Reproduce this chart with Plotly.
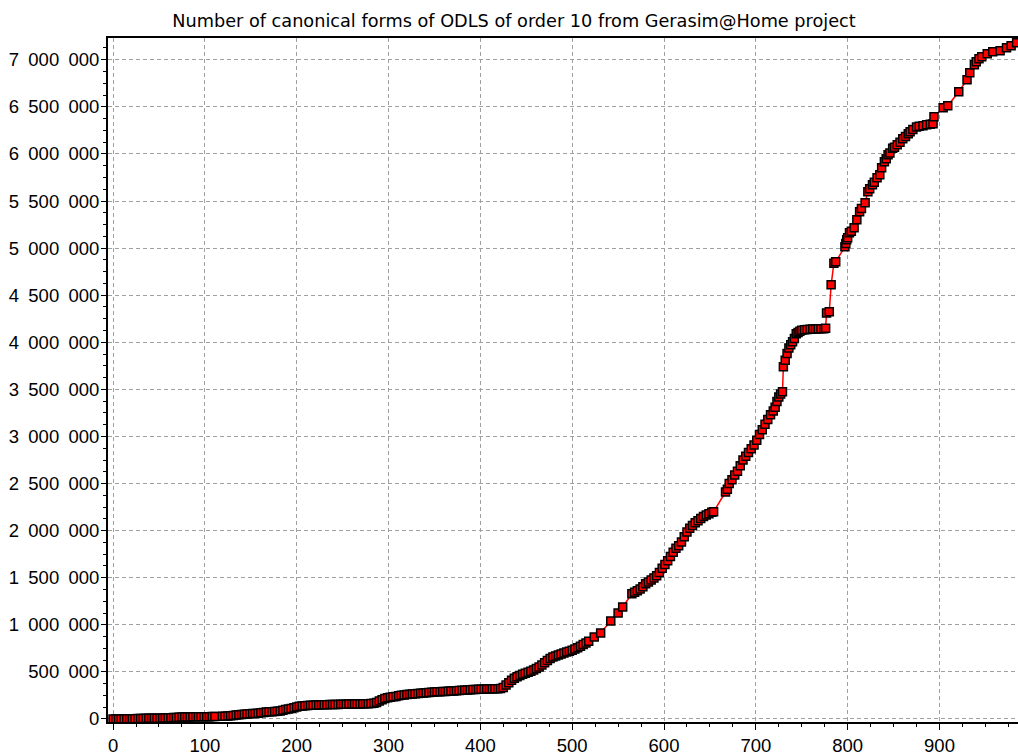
import plotly.graph_objects as go

# ---- data ----
days = [
    0, 3, 6, 9, 12, 15, 18, 21, 24, 27, 30, 33, 36, 39, 42, 45, 48, 51, 54, 57,
    60, 63, 66, 69, 72, 75, 78, 81, 84, 87, 90, 93, 96, 99, 102, 105, 108, 111,
    119, 122, 125, 128, 131, 134, 137, 140, 143, 146, 149, 152, 155, 158, 161, 164,
    167, 170, 173, 176, 179, 182, 185, 188, 191, 194, 197, 200, 203, 206, 209, 212,
    215, 218, 221, 224, 227, 230, 233, 236, 239, 242, 245, 248, 251, 254, 257, 260,
    263, 266, 269, 272, 275, 278, 281, 284, 287, 290, 293, 296, 299,
    302, 305, 308, 311, 314, 317, 320, 323, 326, 329, 332, 335, 338, 341, 344, 347,
    350, 353, 356, 359, 362, 365, 368, 371, 374, 377, 380, 383, 386, 389, 392, 395,
    398, 401, 404, 407, 410, 413, 416, 419, 422, 425,
    428, 431, 434, 437, 440, 443, 446, 449, 452, 455, 458, 461, 464, 467, 470, 473,
    476, 479, 482, 485, 488, 491, 494, 497, 500, 503, 506, 509, 512, 515,
    518, 524, 531, 542, 550, 555,
    565, 568, 571, 574, 577, 580, 583, 586, 589, 592, 595, 598, 601, 604, 607, 610,
    613, 616, 619, 622, 625, 628, 631, 634, 637, 640, 643, 646, 649, 652, 654,
    667, 669, 671, 674, 677, 680, 683, 686, 689, 692, 695, 698, 701, 704, 707, 710,
    713, 716, 719, 721, 723, 725, 727, 729,
    730, 732, 734, 736, 738, 740, 742, 744, 746, 748, 750, 753, 756, 759, 762, 765,
    768, 771, 774, 776,
    777, 780, 782, 785, 787,
    797, 798, 799, 800, 802, 804, 807, 810, 813, 815, 819, 822, 824, 827, 829, 832,
    835, 837, 840, 842, 844, 846, 849, 851, 854, 857, 860, 863, 866, 868, 871, 875,
    878, 882, 886, 890, 893,
    894, 904, 909, 921, 930, 933, 938, 940, 943, 946, 952, 958, 966, 973, 978, 984,
]

forms = [
    0, 0, 500, 1000, 1000, 2000, 2000, 3000, 3000, 5000, 6000, 6000, 7000, 7000, 8000, 8000,
    9000, 9000, 10000, 11000, 12000, 13000, 15000, 17000, 19000, 20000, 21000, 22000, 22000,
    23000, 23000, 24000, 24000, 25000, 25000, 25000, 26000, 26000,
    28000, 30000, 32000, 35000, 38000, 42000, 45000, 48000, 50000, 53000, 55000, 57000, 59000,
    62000, 66000, 70000, 73000, 76000, 78000, 80000, 83000, 86000, 92000, 100000, 106000,
    112000, 120000, 128000, 134000, 138000, 141000, 143000, 145000, 147000, 148000, 149000,
    150000, 151000, 152000, 153000, 154000, 155000, 155000, 156000, 157000, 157000, 158000,
    158000, 159000, 159000, 160000, 161000, 162000, 163000, 165000, 168000, 175000, 190000,
    205000, 218000, 226000,
    230000, 235000, 240000, 246000, 252000, 256000, 259000, 262000, 265000, 267000, 270000,
    273000, 276000, 279000, 282000, 285000, 287000, 289000, 290000, 292000, 293000, 295000,
    296000, 298000, 300000, 302000, 304000, 306000, 308000, 310000, 312000, 314000, 315000,
    316000, 317000, 318000, 319000, 320000, 321000, 322000, 324000, 335000,
    360000, 385000, 410000, 432000, 448000, 462000, 474000, 486000, 496000, 506000, 520000,
    536000, 552000, 572000, 598000, 622000, 642000, 658000, 670000, 680000, 690000, 700000,
    710000, 720000, 730000, 742000, 756000, 772000, 790000, 808000,
    825000, 871000, 914000, 1041000, 1126000, 1190000,
    1330000, 1345000, 1362000, 1381000, 1405000, 1435000, 1455000, 1475000, 1498000, 1520000,
    1555000, 1600000, 1640000, 1680000, 1725000, 1770000, 1812000, 1840000, 1880000, 1935000,
    1985000, 2025000, 2055000, 2085000, 2105000, 2130000, 2150000, 2165000, 2180000, 2195000,
    2200000,
    2410000, 2440000, 2500000, 2540000, 2590000, 2630000, 2690000, 2750000, 2790000, 2830000,
    2870000, 2910000, 2960000, 3020000, 3070000, 3130000, 3180000, 3230000, 3270000, 3310000,
    3370000, 3420000, 3450000, 3475000,
    3740000, 3810000, 3880000, 3940000, 3975000, 4005000, 4040000, 4090000, 4105000, 4118000,
    4128000, 4132000, 4136000, 4138000, 4140000, 4142000, 4143000, 4144000, 4145000, 4150000,
    4310000, 4325000, 4610000, 4840000, 4855000,
    5014000, 5050000, 5088000, 5110000, 5162000, 5180000, 5215000, 5300000, 5385000, 5420000,
    5481000, 5598000, 5630000, 5672000, 5700000, 5746000, 5778000, 5853000, 5917000, 5950000,
    5991000, 6010000, 6060000, 6070000, 6097000, 6125000, 6160000, 6185000, 6215000, 6235000,
    6260000, 6285000, 6295000, 6300000, 6310000, 6315000, 6320000,
    6394000, 6490000, 6511000, 6660000, 6788000, 6862000, 6947000, 6979000, 7010000, 7032000,
    7064000, 7085000, 7096000, 7127000, 7149000, 7181000,
]

x_ticks = [0, 100, 200, 300, 400, 500, 600, 700, 800, 900]
y_ticks = [0, 500000, 1000000, 1500000, 2000000, 2500000, 3000000, 3500000,
           4000000, 4500000, 5000000, 5500000, 6000000, 6500000, 7000000]
y_labels = [f"{v:,}".replace(",", "\u2002") for v in y_ticks]

title_text = "Number of canonical forms of ODLS of order 10 from Gerasim@Home project"

fig = go.Figure()
fig.add_trace(go.Scatter(
    x=days, y=forms, mode="lines+markers",
    line=dict(color="#ff0000", width=1.5),
    marker=dict(symbol="square", size=8, color="#ff0000",
                line=dict(color="#000000", width=1.5)),
    hoverinfo="skip", showlegend=False,
))

axis_font = dict(family="Liberation Sans, Arial, sans-serif", size=18.5, color="#000000")

fig.update_layout(
    width=1018, height=752,
    margin=dict(l=108, r=0, t=38, b=30, pad=0, autoexpand=False),
    paper_bgcolor="#ffffff", plot_bgcolor="#ffffff",
    title=dict(text=title_text, x=514 / 1018, xanchor="center", xref="container",
               y=1 - 21 / 752, yref="container", yanchor="middle",
               font=dict(family="DejaVu Sans, Tahoma, sans-serif", size=17.7, color="#000000")),
)

fig.update_xaxes(
    range=[-5.5, 985.5], tickvals=x_ticks, ticks="outside", ticklen=6, tickwidth=1,
    tickcolor="#000000", tickfont=axis_font, automargin=False,
    showline=True, linewidth=2, linecolor="#000000", mirror=True,
    showgrid=True, gridcolor="#a0a0a0", gridwidth=1, griddash="4px,3px",
    zeroline=False,
    minor=dict(dtick=25, tick0=0, ticks="outside", ticklen=3, tickcolor="#000000", showgrid=False),
)
fig.update_yaxes(
    range=[-32000, 7231000], tickvals=y_ticks, ticktext=y_labels, ticks="outside",
    ticklen=5, tickwidth=1, tickcolor="#000000", tickfont=axis_font, automargin=False,
    ticklabelstandoff=-2,
    showline=True, linewidth=2, linecolor="#000000", mirror=False,
    showgrid=True, gridcolor="#a0a0a0", gridwidth=1, griddash="4px,3px",
    zeroline=False,
    minor=dict(dtick=125000, tick0=0, ticks="outside", ticklen=3, tickcolor="#000000", showgrid=False),
)

fig.write_html(
    "out.html",
    config={"displayModeBar": False},
    post_script="document.body.style.margin='0';document.body.style.overflow='hidden';",
)
